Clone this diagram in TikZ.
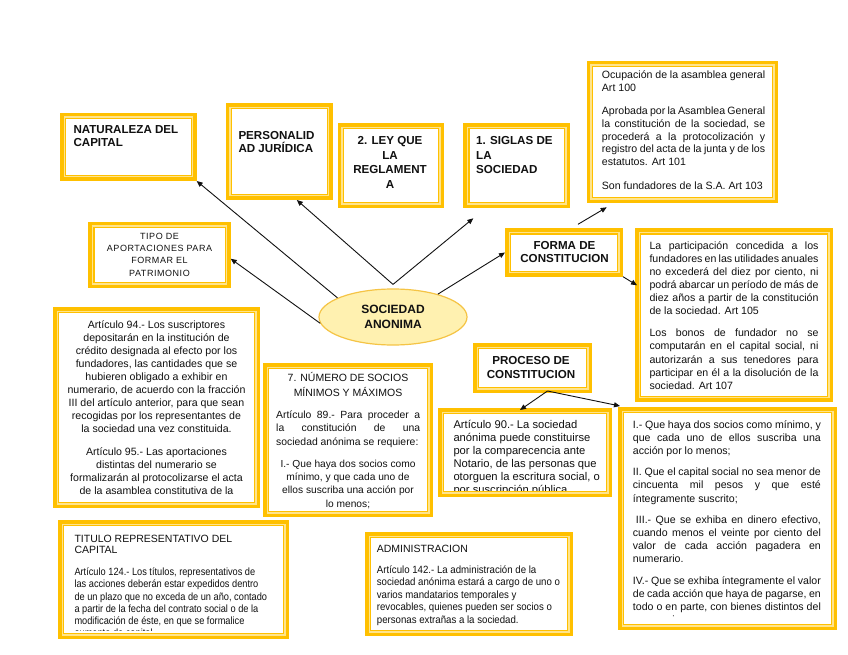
\documentclass[tikz,border=0pt]{standalone}
\usepackage{fontspec}
\setmainfont{Liberation Sans}
\newfontfamily\narrowA[FakeStretch=0.88]{Liberation Sans}
\newfontfamily\narrowB[FakeStretch=0.92]{Liberation Sans}
\newfontfamily\spacedfont[LetterSpace=6]{Liberation Sans}
\usetikzlibrary{arrows.meta,shapes.geometric}
\definecolor{gold}{HTML}{FFC000}
\definecolor{pale}{HTML}{FFE48C}
\definecolor{ellfill}{HTML}{FFF1B0}
\definecolor{elldraw}{HTML}{F5C445}
\definecolor{ink}{HTML}{111111}
\newcommand{\JL}[1]{\makebox[\linewidth][s]{#1}}
\newcommand{\hd}{\fontsize{11.6}{13.4}\selectfont\bfseries}
\newcommand{\ybx}[5]{\node[ybox, minimum width={#4pt-#2pt-3.5pt}, minimum height={#5pt-#3pt-3.5pt}] (#1) at ({(#2+#4)/2},{(#3+#5)/2}) {};}
\begin{document}
\begin{tikzpicture}[x=1pt,y=-1pt,
  ybox/.style={draw=gold, line width=3.5pt, fill=white, inner sep=0pt,
    path picture={
      \draw[pale, line width=1.6pt] ([shift={(2.55pt,-2.55pt)}]path picture bounding box.north west) rectangle ([shift={(-2.55pt,2.55pt)}]path picture bounding box.south east);
      \draw[gold, line width=1.1pt] ([shift={(3.9pt,-3.9pt)}]path picture bounding box.north west) rectangle ([shift={(-3.9pt,3.9pt)}]path picture bounding box.south east);
    }},
  tx/.style={inner sep=0pt, text=ink, anchor=base west},
  tc/.style={inner sep=0pt, text=ink, anchor=base},
  arr/.style={draw=ink, line width=0.9pt, -{Triangle[length=6pt,width=5pt]}}]
\useasboundingbox[fill=white] (0,0) rectangle (848,655);

% boxes
\ybx{nat}{60}{112.7}{196.7}{181}
\ybx{per}{225.7}{103.3}{332.7}{200}
\ybx{ley}{337.7}{123.3}{444.3}{208.3}
\ybx{sig}{463.3}{123.3}{570}{208.3}
\ybx{topr}{586.7}{61}{778.3}{203.3}
\ybx{tipo}{88.3}{221.7}{230.7}{288.3}
\ybx{forma}{505}{228.3}{623}{276.7}
\ybx{rmid}{635}{228.3}{833.3}{401.7}
\ybx{a94}{53}{307}{260}{508}
\ybx{n7}{263}{363}{433}{517}
\ybx{proc}{473}{343}{592}{393}
\ybx{a90}{438}{408}{612}{497}
\ybx{rbot}{618}{407}{837}{630}
\ybx{tit}{58}{520}{289}{639}
\ybx{adm}{365}{532}{573}{636}

% ellipse
\node[ellipse, draw=elldraw, fill=ellfill, line width=1.2pt, minimum width=148pt, minimum height=56pt, inner sep=0pt, align=center, text=ink, font=\fontsize{12}{14.3}\selectfont\bfseries] (ell) at (393,317) {SOCIEDAD\\ANONIMA};

% headings
\node[tx] (tnat) at (73.3,133.4) {\parbox[t]{120pt}{\hd NATURALEZA DEL\\CAPITAL}};
\node[tx] (tper) at (238.3,139.1) {\parbox[t]{90pt}{\fontsize{11.6}{13.3}\selectfont\bfseries PERSONALID\\AD JURÍDICA}};
\node[tc] (tley) at (390,144.8) {\parbox[t]{100pt}{\centering\fontsize{11.6}{14.5}\selectfont\bfseries 2. LEY QUE\\LA\\REGLAMENT\\A}};
\node[tx] (tsig) at (476,144.8) {\parbox[t]{90pt}{\fontsize{11.6}{14.3}\selectfont\bfseries 1. SIGLAS DE\\LA\\SOCIEDAD}};
\node[tc] (ttipo) at (159.5,239.5) {\parbox[t]{140pt}{\centering\spacedfont\fontsize{9}{12.2}\selectfont TIPO DE\\APORTACIONES PARA\\FORMAR EL\\PATRIMONIO}};
\node[tc] (tforma) at (564.5,249.1) {\parbox[t]{116pt}{\centering\hd FORMA DE\\CONSTITUCION}};
\node[tc] (tproc) at (531,364.1) {\parbox[t]{116pt}{\centering\fontsize{11.6}{14}\selectfont\bfseries PROCESO DE\\CONSTITUCION}};

% top right text
\node[tx] (ttop) at (601.7,79) {\parbox[t]{163.3pt}{\fontsize{10.6}{12.8}\selectfont
\JL{Ocupación de la asamblea general}\\
Art 100\\[9.9pt]
\JL{Aprobada por la Asamblea General}\\
\JL{la constitución de la sociedad, se}\\
\JL{procederá a la protocolización y}\\
\JL{registro del acta de la junta y de los}\\
estatutos. Art 101\\[10.6pt]
Son fundadores de la S.A. Art 103}};

% right middle text
\node[tx] (tmid) at (649.3,249) {\parbox[t]{169pt}{\fontsize{10.6}{13.1}\selectfont
\JL{La participación concedida a los}\\
\JL{fundadores en las utilidades anuales}\\
\JL{no excederá del diez por ciento, ni}\\
\JL{podrá abarcar un período de más de}\\
\JL{diez años a partir de la constitución}\\
de la sociedad. Art 105\\[9.2pt]
\JL{Los bonos de fundador no se}\\
\JL{computarán en el capital social, ni}\\
\JL{autorizarán a sus tenedores para}\\
\JL{participar en él a la disolución de la}\\
sociedad. Art 107}};

% art 94
\begin{scope}
\clip (60,314) rectangle (253,498);
\node[tc] (t94) at (156.5,328.3) {\parbox[t]{195pt}{\centering\fontsize{10.6}{13.05}\selectfont
Artículo 94.- Los suscriptores\\
depositarán en la institución de\\
crédito designada al efecto por los\\
fundadores, las cantidades que se\\
hubieren obligado a exhibir en\\
numerario, de acuerdo con la fracción\\
III del artículo anterior, para que sean\\
recogidas por los representantes de\\
la sociedad una vez constituida.\\[9.4pt]
Artículo 95.- Las aportaciones\\
distintas del numerario se\\
formalizarán al protocolizarse el acta\\
de la asamblea constitutiva de la\\
sociedad}};
\end{scope}

% box 7
\node[tc] (t7a) at (348,381.2) {\parbox[t]{160pt}{\centering\fontsize{10.5}{15}\selectfont 7. NÚMERO DE SOCIOS\\MÍNIMOS Y MÁXIMOS}};
\node[tx] (t7b) at (276,418.3) {\parbox[t]{144pt}{\fontsize{10.4}{13.35}\selectfont
\JL{Artículo 89.- Para proceder a}\\
\JL{la constitución de una}\\
sociedad anónima se requiere:}};
\node[tc] (t7c) at (348,467.3) {\parbox[t]{160pt}{\centering\fontsize{10.2}{13.3}\selectfont
I.- Que haya dos socios como\\
mínimo, y que cada uno de\\
ellos suscriba una acción por\\
lo menos;}};

% art 90
\begin{scope}
\clip (445,414) rectangle (605,490.5);
\node[tx] (t90) at (453.3,428.3) {\parbox[t]{160pt}{\raggedright\fontsize{11.2}{13}\selectfont
Artículo 90.- La sociedad\\
anónima puede constituirse\\
por la comparecencia ante\\
Notario, de las personas que\\
otorguen la escritura social, o\\
por suscripción pública}};
\end{scope}

% right bottom
\begin{scope}
\clip (625,414) rectangle (830,616.5);
\node[tx] (tbot) at (632.7,428.3) {\parbox[t]{188pt}{\fontsize{10.6}{13.2}\selectfont
\JL{I.- Que haya dos socios como mínimo, y}\\
\JL{que cada uno de ellos suscriba una}\\
acción por lo menos;\\[7.8pt]
\JL{II. Que el capital social no sea menor de}\\
\JL{cincuenta mil pesos y que esté}\\
íntegramente suscrito;\\[7.8pt]
\JL{\hspace{3pt}III.- Que se exhiba en dinero efectivo,}\\
\JL{cuando menos el veinte por ciento del}\\
\JL{valor de cada acción pagadera en}\\
numerario.\\[8.3pt]
\JL{IV.- Que se exhiba íntegramente el valor}\\
\JL{de cada acción que haya de pagarse, en}\\
\JL{todo o en parte, con bienes distintos del}\\
numerario.}};
\end{scope}

% titulo
\node[tx] (ttit) at (74.3,542.1) {\parbox[t]{200pt}{\fontsize{10.5}{11.7}\selectfont TITULO REPRESENTATIVO DEL\\CAPITAL}};
\begin{scope}
\clip (65,527) rectangle (282,630);
\node[tx] (ttitb) at (74.3,575.6) {\parbox[t]{205pt}{\raggedright\narrowA\fontsize{10.5}{12.2}\selectfont
Artículo 124.- Los títulos, representativos de\\
las acciones deberán estar expedidos dentro\\
de un plazo que no exceda de un año, contado\\
a partir de la fecha del contrato social o de la\\
modificación de éste, en que se formalice\\
aumento de capital}};
\end{scope}

% administracion
\node[tx] (tadm) at (376.7,552.8) {\parbox[t]{180pt}{\fontsize{10.5}{12}\selectfont ADMINISTRACION}};
\node[tx] (tadmb) at (376.7,573.3) {\parbox[t]{190pt}{\raggedright\narrowB\fontsize{10.5}{12.5}\selectfont
Artículo 142.- La administración de la\\
sociedad anónima estará a cargo de uno o\\
varios mandatarios temporales y\\
revocables, quienes pueden ser socios o\\
personas extrañas a la sociedad.}};

% connectors
\coordinate (apex) at ([yshift=4pt]ell.north);
\draw[arr] (ell.161) -- (nat.south east);
\draw[arr] (apex) -- (per.-70);
\coordinate (sigtip) at ([xshift=10pt,yshift=-10pt]sig.south west);
\draw[arr] (apex) -- (sigtip);
\draw[arr] (ell.185) -- (tipo.-3);
\draw[arr] (ell.27) -- (forma.west);
\coordinate (f1) at ([xshift=14pt,yshift=4pt]forma.north);
\coordinate (f1tip) at ([xshift=20pt,yshift=-4pt]topr.south west);
\draw[arr] (f1) -- (f1tip);
\coordinate (f2tip) at ([xshift=2pt,yshift=-57pt]rmid.north west);
\draw[arr] (forma.south east) -- (f2tip);
\coordinate (p1) at ([xshift=15pt,yshift=2pt]proc.south);
\coordinate (p1tip) at ([xshift=-5pt,yshift=-2pt]a90.north);
\coordinate (p2tip) at ([xshift=2pt,yshift=1pt]rbot.north west);
\draw[arr] (p1) -- (p1tip);
\draw[arr] (p1) -- (p2tip);
\end{tikzpicture}
\end{document}
